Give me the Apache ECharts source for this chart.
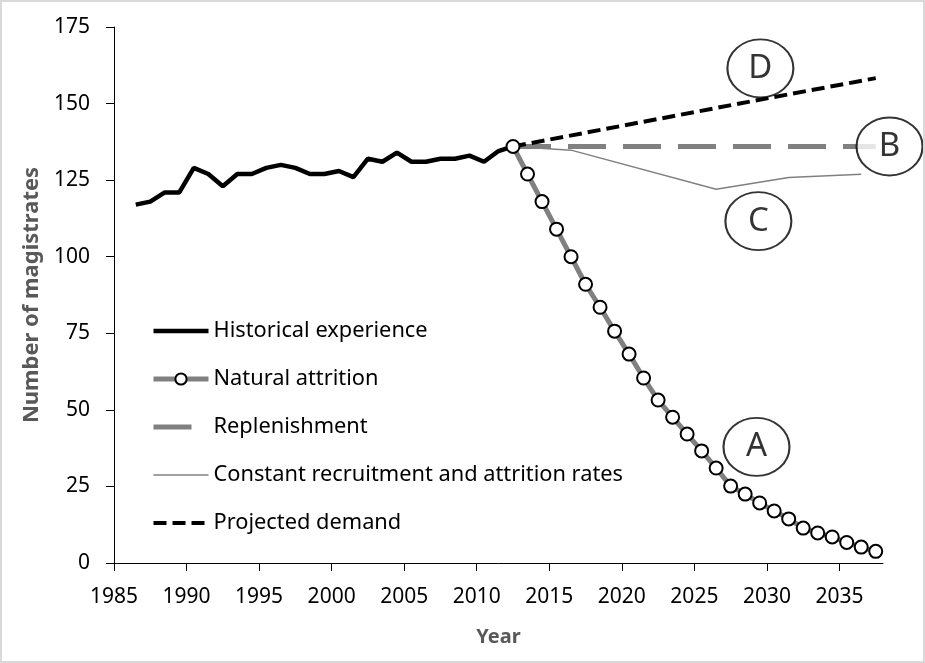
<!DOCTYPE html>
<html>
<head>
<meta charset="utf-8">
<script src="https://cdn.jsdelivr.net/npm/echarts@6/dist/echarts.min.js"></script>
<style>
html,body{margin:0;padding:0;background:#fff;}
#c{width:925px;height:663px;box-sizing:border-box;border:2px solid #d9d9d9;}
</style>
</head>
<body>
<div id="c"></div>
<script>
// ---- data ----
var histYears = [1986.5,1987.5,1988.5,1989.5,1990.5,1991.5,1992.5,1993.5,1994.5,1995.5,1996.5,1997.5,1998.5,1999.5,2000.5,2001.5,2002.5,2003.5,2004.5,2005.5,2006.5,2007.5,2008.5,2009.5,2010.5,2011.5,2012.5];
var histValues = [117,118,121,121,129,127,123,127,127,129,130,129,127,127,128,126,132,131,134,131,131,132,132,133,131,134.5,136];

var attrYears = [2012.5,2013.5,2014.5,2015.5,2016.5,2017.5,2018.5,2019.5,2020.5,2021.5,2022.5,2023.5,2024.5,2025.5,2026.5,2027.5,2028.5,2029.5,2030.5,2031.5,2032.5,2033.5,2034.5,2035.5,2036.5,2037.5];
var attrValues = [136,127,118,109,100,91,83.5,75.7,68.2,60.4,53.2,47.6,42.1,36.6,31.0,25.1,22.5,19.6,17.0,14.4,11.4,9.8,8.5,6.7,5.2,3.8];

var replYears = [2012.5,2037.5];
var replValues = [136,136];

var constYears = [2012.5,2016.5,2026.5,2031.5,2036.5];
var constValues = [136,134.8,122,125.9,126.9];

var demandYears = [2012.5,2030.0,2037.5];
var demandValues = [136,151.7,158.3];

var xTicks = [1985,1990,1995,2000,2005,2010,2015,2020,2025,2030,2035];

var noteLabels = ['D','B','C','A'];
var noteYears = [2029.55,2038.45,2029.41,2029.28];
var noteValues = [161.5,136,111.6,37.9];

var seriesNames = ['Historical experience','Natural attrition','Replenishment','Constant recruitment and attrition rates','Projected demand'];

function pairs(xs, ys){ return xs.map(function(x,i){ return [x, ys[i]]; }); }

var FONT = 'Noto Sans';
var chart = echarts.init(document.getElementById('c'));
chart.setOption({
  animation: false,
  textStyle: {fontFamily: FONT},
  grid: {left: 112, right: 40, top: 25, bottom: 98},
  legend: {
    orient: 'vertical', left: 149, top: 317, padding: 0,
    itemWidth: 55, itemHeight: 14, itemGap: 24, itemTextGap: 5,
    lineStyle: {width: 'inherit'},
    textStyle: {fontFamily: FONT, fontSize: 21.8, lineHeight: 24, color: '#000'},
    data: seriesNames.map(function(n, i){
      return i === 1 ? {name: n} : {name: n, itemStyle: {opacity: 0}};
    })
  },
  xAxis: {
    type: 'value', min: 1985, max: 2038,
    name: 'Year', nameLocation: 'middle', nameGap: 64,
    nameTextStyle: {fontFamily: FONT, fontSize: 20, fontWeight: 'bold', color: '#595959'},
    axisLine: {show: true, lineStyle: {color: '#000', width: 1}},
    axisTick: {show: true, length: 8, lineStyle: {color: '#000'}, customValues: xTicks},
    axisLabel: {fontFamily: FONT, fontSize: 21, color: '#000', margin: 24, customValues: xTicks,
      formatter: function(v){ return String(v); }},
    splitLine: {show: false}
  },
  yAxis: {
    type: 'value', min: 0, max: 175, interval: 25,
    name: 'Number of magistrates', nameLocation: 'middle', nameGap: 68,
    nameTextStyle: {fontFamily: FONT, fontSize: 22, fontWeight: 'bold', color: '#595959'},
    axisLine: {show: true, lineStyle: {color: '#000', width: 1}},
    axisTick: {show: true, length: 8, lineStyle: {color: '#000'}},
    axisLabel: {fontFamily: FONT, fontSize: 21, color: '#000', margin: 24},
    splitLine: {show: false}
  },
  series: [
    {
      name: seriesNames[0], type: 'line', data: pairs(histYears, histValues),
      symbol: 'none', z: 5,
      lineStyle: {color: '#000', width: 4.5},
      itemStyle: {color: '#000'}
    },
    {
      name: seriesNames[1], type: 'line', data: pairs(attrYears, attrValues),
      symbol: 'circle', symbolSize: 13, showAllSymbol: true, z: 6,
      lineStyle: {color: '#808080', width: 5},
      itemStyle: {color: '#fff', borderColor: '#000', borderWidth: 2}
    },
    {
      name: seriesNames[2], type: 'line', data: pairs(replYears, replValues),
      symbol: 'none', z: 3,
      lineStyle: {color: '#808080', width: 5, type: [38, 17]},
      itemStyle: {color: '#808080'}
    },
    {
      name: seriesNames[3], type: 'line', data: pairs(constYears, constValues),
      symbol: 'none', z: 3,
      lineStyle: {color: '#808080', width: 1.5},
      itemStyle: {color: '#808080'}
    },
    {
      name: seriesNames[4], type: 'line', data: pairs(demandYears, demandValues),
      symbol: 'none', z: 4,
      lineStyle: {color: '#000', width: 4, type: [13, 6]},
      itemStyle: {color: '#000'}
    },
    {
      name: 'notes', type: 'scatter', clip: false, z: 10, silent: true,
      data: noteYears.map(function(x,i){ return {value: [x, noteValues[i]], name: noteLabels[i]}; }),
      symbol: 'circle', symbolSize: [66, 58],
      itemStyle: {color: '#fff', borderColor: '#000', borderWidth: 2},
      label: {show: true, position: 'inside', formatter: '{b}', fontFamily: FONT, fontSize: 33, color: '#000'}
    }
  ]
});
</script>
</body>
</html>
